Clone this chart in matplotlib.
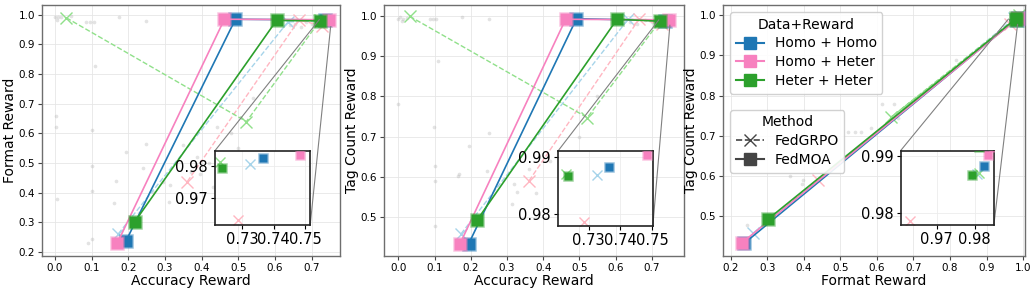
import matplotlib
matplotlib.use("Agg")
import matplotlib.pyplot as plt
from matplotlib.lines import Line2D
from mpl_toolkits.axes_grid1.inset_locator import mark_inset

# ---- data ----
configs = ["Homo + Homo", "Homo + Heter", "Heter + Heter"]

# FedMOA: three checkpoints per config
moa_acc = [[0.194, 0.492, 0.7365], [0.170, 0.462, 0.7483], [0.218, 0.604, 0.7235]]
moa_fmt = [[0.238, 0.985, 0.9825], [0.230, 0.985, 0.9834], [0.303, 0.981, 0.9794]]
moa_tag = [[0.433, 0.993, 0.9882], [0.433, 0.9915, 0.9902], [0.493, 0.9915, 0.9867]]

# FedGRPO
grpo_acc = [[0.173, 0.635, 0.7325], [0.361, 0.665, 0.7286], [0.031, 0.522, 0.7228]]
grpo_fmt = [[0.262, 0.976, 0.9805], [0.438, 0.982, 0.9631], [0.990, 0.640, 0.9812]]
grpo_tag = [[0.458, 0.992, 0.9868], [0.590, 0.992, 0.9787], [0.999, 0.747, 0.9870]]

# faint background samples
bg1_x = [0.0, 0.009, 0.018, 0.005, 0.045, 0.086, 0.097, 0.106, 0.175, 0.248, 0.109, 0.002,
         0.002, 0.005, 0.1, 0.102, 0.1, 0.091, 0.102, 0.194, 0.166, 0.162, 0.239, 0.268,
         0.312, 0.23, 0.247, 0.295, 0.314, 0.386, 0.395, 0.441, 0.541, 0.42, 0.46, 0.5,
         0.64, 0.655, 0.67, 0.685, 0.7, 0.35, 0.37, 0.43, 0.48]
bg1_y = [0.993, 0.991, 0.993, 0.982, 0.995, 0.976, 0.976, 0.976, 0.991, 0.98, 0.828, 0.658,
         0.622, 0.378, 0.611, 0.49, 0.406, 0.23, 0.243, 0.538, 0.44, 0.366, 0.482, 0.404,
         0.368, 0.333, 0.566, 0.437, 0.426, 0.521, 0.465, 0.622, 0.718, 0.5, 0.47, 0.55,
         0.965, 0.97, 0.96, 0.975, 0.968, 0.56, 0.47, 0.42, 0.6]
bg2_x = [0.0, 0.005, 0.014, 0.023, 0.011, 0.087, 0.096, 0.103, 0.175, 0.25, 0.109, 0.0,
         0.099, 0.101, 0.1, 0.101, 0.164, 0.168, 0.195, 0.25, 0.244, 0.318, 0.327, 0.313,
         0.36, 0.38, 0.42, 0.45, 0.47, 0.5, 0.64, 0.66, 0.68, 0.7, 0.55]
bg2_y = [0.993, 0.996, 0.993, 0.995, 0.988, 0.991, 0.991, 0.991, 0.998, 0.991, 0.887, 0.782,
         0.723, 0.626, 0.59, 0.478, 0.603, 0.607, 0.676, 0.708, 0.615, 0.582, 0.561, 0.532,
         0.62, 0.56, 0.64, 0.6, 0.66, 0.7, 0.985, 0.98, 0.99, 0.985, 0.8]
bg3_x = [0.244, 0.362, 0.396, 0.399, 0.427, 0.521, 0.539, 0.557, 0.585, 0.613, 0.647,
         0.659, 0.816, 0.97, 0.975, 0.99]
bg3_y = [0.477, 0.6, 0.58, 0.59, 0.625, 0.71, 0.71, 0.709, 0.719, 0.778, 0.779,
         0.743, 0.888, 0.985, 0.99, 0.995]

moa_colors = ["#1f77b4", "#f781bf", "#2ca02c"]
grpo_colors = ["#a6d4ea", "#ffb6c1", "#90e08a"]

plt.rcParams["font.family"] = "DejaVu Sans"

fig = plt.figure(figsize=(10.3, 2.91), dpi=100)
ax1 = fig.add_axes([0.0408, 0.1203, 0.2893, 0.8625])
ax2 = fig.add_axes([0.3731, 0.1203, 0.2913, 0.8625])
ax3 = fig.add_axes([0.7022, 0.1203, 0.2929, 0.8625])


def draw(ax, xs_moa, ys_moa, xs_grpo, ys_grpo, bx, by, inset=False):
    ms_sq = 5.5 if inset else 8
    ms_x = 7 if inset else 9
    ls_g = "none" if inset else "--"
    ls_m = "none" if inset else "-"
    if not inset:
        ax.scatter(bx, by, s=7, color="#b0b0b0", alpha=0.35, linewidths=0, zorder=1)
    for i in range(3):
        ax.plot(xs_grpo[i], ys_grpo[i], ls=ls_g, lw=1.0, color=grpo_colors[i],
                marker="x", ms=ms_x, mew=1.0, zorder=2)
    for i in range(3):
        c = moa_colors[i]
        ax.plot(xs_moa[i], ys_moa[i], ls=ls_m, lw=1.2, color=c, marker="s", ms=ms_sq,
                mfc=c, mec=matplotlib.colors.to_rgba(c, 0.45), mew=1.8, zorder=3)


def style(ax, xlabel, ylabel):
    ax.grid(True, color="#e6e6e6", lw=0.6)
    ax.set_axisbelow(True)
    for s in ax.spines.values():
        s.set_color("#6e6e6e")
        s.set_linewidth(1.0)
    ax.tick_params(labelsize=7.5, length=3, width=0.8, color="#444444", pad=2)
    ax.set_xlabel(xlabel, fontsize=10, labelpad=0.5)
    ax.set_ylabel(ylabel, fontsize=10, labelpad=1)


def add_inset(ax, rect, xs_moa, ys_moa, xs_grpo, ys_grpo, xlim, ylim, xt, yt):
    axin = ax.inset_axes(rect)
    draw(axin, xs_moa, ys_moa, xs_grpo, ys_grpo, None, None, inset=True)
    axin.set_xlim(*xlim)
    axin.set_ylim(*ylim)
    axin.set_xticks(xt)
    axin.set_yticks(yt)
    axin.tick_params(labelsize=10.5, length=3, width=0.8, pad=2)
    axin.grid(True, color="#ececec", lw=0.6)
    axin.set_axisbelow(True)
    for s in axin.spines.values():
        s.set_color("#222222")
        s.set_linewidth(1.2)
    axin.set_facecolor("white")
    mark_inset(ax, axin, loc1=2, loc2=4, fc="none", ec="0.5", lw=0.8)
    return axin


# panel 1: accuracy vs format
draw(ax1, moa_acc, moa_fmt, grpo_acc, grpo_fmt, bg1_x, bg1_y)
ax1.set_xlim(-0.035, 0.777)
ax1.set_ylim(0.187, 1.033)
style(ax1, "Accuracy Reward", "Format Reward")
add_inset(ax1, [0.58, 0.124, 0.32, 0.295], moa_acc, moa_fmt, grpo_acc, grpo_fmt,
          (0.7213, 0.7516), (0.9616, 0.9847), [0.73, 0.74, 0.75], [0.97, 0.98])

# panel 2: accuracy vs tag count
draw(ax2, moa_acc, moa_tag, grpo_acc, grpo_tag, bg2_x, bg2_y)
ax2.set_xlim(-0.039, 0.79)
ax2.set_ylim(0.403, 1.027)
style(ax2, "Accuracy Reward", "Tag Count Reward")
add_inset(ax2, [0.578, 0.12, 0.317, 0.297], moa_acc, moa_tag, grpo_acc, grpo_tag,
          (0.7203, 0.7502), (0.978, 0.9909), [0.73, 0.74, 0.75], [0.98, 0.99])

# panel 3: format vs tag count
draw(ax3, moa_fmt, moa_tag, grpo_fmt, grpo_tag, bg3_x, bg3_y)
ax3.set_xlim(0.18, 1.005)
ax3.set_ylim(0.401, 1.025)
style(ax3, "Format Reward", "Tag Count Reward")
add_inset(ax3, [0.588, 0.124, 0.309, 0.296], moa_fmt, moa_tag, grpo_fmt, grpo_tag,
          (0.9606, 0.985), (0.978, 0.9909), [0.97, 0.98], [0.98, 0.99])

h1 = [Line2D([], [], color=c, lw=1.5, marker="s", ms=8) for c in moa_colors]
leg1 = ax3.legend(h1, configs, title="Data+Reward", loc="upper left",
                  bbox_to_anchor=(0.0, 1.0), fontsize=10, title_fontsize=10,
                  handlelength=2.0, borderpad=0.4, labelspacing=0.35,
                  framealpha=0.9, edgecolor="#cccccc")
ax3.add_artist(leg1)
h2 = [Line2D([], [], color="#444444", lw=1.2, ls="--", marker="x", ms=9),
      Line2D([], [], color="#444444", lw=1.5, ls="-", marker="s", ms=8)]
ax3.legend(h2, ["FedGRPO", "FedMOA"], title="Method", loc="upper left",
           bbox_to_anchor=(0.0, 0.61), fontsize=10, title_fontsize=10,
           handlelength=2.0, borderpad=0.4, labelspacing=0.35,
           framealpha=0.9, edgecolor="#cccccc")

fig.savefig("out.png", dpi=100)
